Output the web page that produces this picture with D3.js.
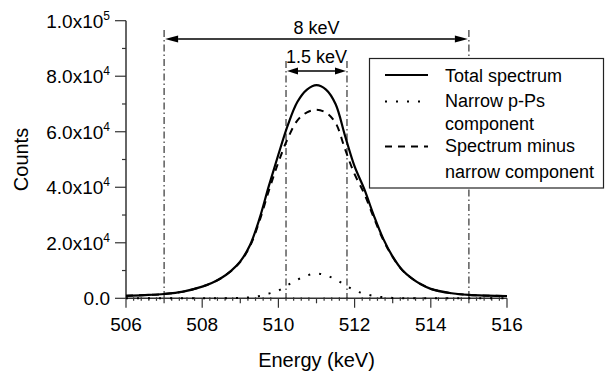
<!DOCTYPE html>
<html>
<head>
<meta charset="utf-8">
<script src="https://cdn.jsdelivr.net/npm/d3@7"></script>
<style>
body{margin:0;background:#fff;}
text{font-family:"Liberation Sans",Arial,sans-serif;fill:#000;}
</style>
</head>
<body>
<div id="chart"></div>
<script>
// energies (keV) and the three spectra
var energy=[506,506.5,507,507.5,508,508.25,508.5,508.75,509,509.25,509.5,509.75,510,510.25,510.5,510.75,511,511.25,511.5,511.75,512,512.25,512.5,512.75,513,513.25,513.5,513.75,514,514.5,515,515.5,516];
var total=[900,1150,1550,2400,4200,5500,7300,9800,13300,19000,28500,40500,51800,62500,70800,75200,76800,75200,70000,58500,47500,39500,30000,21500,15000,10200,7200,5000,3400,1900,1200,950,830];
var narrow=[0,0,0,0,0,0,0,50,150,350,800,1700,2800,4800,6700,8200,8900,8300,6800,4800,2800,1700,850,400,150,60,0,0,0,0,0,0,0];
var minusNarrow=[900,1150,1550,2400,4200,5500,7300,9750,13150,18650,27700,38800,49000,57700,64100,67000,67900,66900,63200,53700,44700,37800,29150,21100,14850,10140,7200,5000,3400,1900,1200,950,830];

var xTicks=[506,508,510,512,514,516];
var yTicks=[0,20000,40000,60000,80000,100000];
var yMant=["0.0","2.0","4.0","6.0","8.0","1.0"];
var yExp=["","4","4","4","4","5"];
var markers=[507,510.2,511.8,515];
var legendNames=[["Total spectrum"],["Narrow p-Ps","component"],["Spectrum minus","narrow component"]];

var W=607,H=371;
var svg=d3.select("#chart").append("svg").attr("width",W).attr("height",H);

var x=d3.scaleLinear().domain([506,516]).range([126,507]);
var y=d3.scaleLinear().domain([0,100000]).range([298.3,20.7]);

// axes
var axisColor="#333";
svg.append("line").attr("x1",x(506)).attr("x2",x(516)).attr("y1",y(0)).attr("y2",y(0))
  .attr("stroke",axisColor).attr("stroke-width",1.5);
svg.append("line").attr("x1",x(506)).attr("x2",x(506)).attr("y1",y(0)).attr("y2",y(100000))
  .attr("stroke",axisColor).attr("stroke-width",1.5);

// x ticks: minor every 0.2, medium at odd, major at even
for(var k=0;k<=50;k++){
  var e=506+k*0.2;
  var len=2.5;
  if(k%10==0) len=9.5;
  else if(k%5==0) len=5;
  svg.append("line").attr("x1",x(e)).attr("x2",x(e)).attr("y1",y(0)-(len<3?1:0)).attr("y2",y(0)+len)
    .attr("stroke",axisColor).attr("stroke-width",1.2);
}
xTicks.forEach(function(t){
  svg.append("text").attr("x",x(t)).attr("y",331).attr("text-anchor","middle")
    .style("font-size","19px").text(t);
});

// y ticks
for(var v=0;v<=100000;v+=10000){
  var len2=(v%20000==0)?11:4;
  svg.append("line").attr("x1",x(506)-len2).attr("x2",x(506)).attr("y1",y(v)).attr("y2",y(v))
    .attr("stroke",axisColor).attr("stroke-width",1.2);
}
yTicks.forEach(function(t,i){
  var tx=svg.append("text").attr("x",110).attr("y",y(t)+7).attr("text-anchor","end")
    .style("font-size","19px");
  if(yExp[i]==""){ tx.text(yMant[i]); }
  else{
    tx.append("tspan").text(yMant[i]+"x10");
    tx.append("tspan").attr("dy",-8).style("font-size","12px").text(yExp[i]);
  }
});

svg.append("text").attr("x",x(511)).attr("y",367).attr("text-anchor","middle")
  .style("font-size","20px").text("Energy (keV)");
svg.append("text").attr("transform","translate(28,"+((y(0)+y(100000))/2)+") rotate(-90)")
  .attr("text-anchor","middle").style("font-size","20px").text("Counts");

// dash-dot marker lines
markers.forEach(function(m,i){
  var top=(i==0||i==3)?30:61;
  svg.append("line").attr("x1",x(m)).attr("x2",x(m)).attr("y1",top).attr("y2",y(0))
    .attr("stroke","#333").attr("stroke-width",1.2).attr("stroke-dasharray","7,3,1.5,3");
});

// double arrows
function dblArrow(x1,x2,yy,head){
  svg.append("line").attr("x1",x1+head).attr("x2",x2-head).attr("y1",yy).attr("y2",yy)
    .attr("stroke","#000").attr("stroke-width",1.5);
  svg.append("path").attr("d","M"+x1+","+yy+"L"+(x1+head)+","+(yy-3.5)+"L"+(x1+head)+","+(yy+3.5)+"Z").attr("fill","#000");
  svg.append("path").attr("d","M"+x2+","+yy+"L"+(x2-head)+","+(yy-3.5)+"L"+(x2-head)+","+(yy+3.5)+"Z").attr("fill","#000");
}
dblArrow(x(markers[0])+1,x(markers[3])-1,39,13);
dblArrow(x(markers[1])+1,x(markers[2])-1,71,11);
svg.append("text").attr("x",(x(markers[0])+x(markers[3]))/2).attr("y",34).attr("text-anchor","middle")
  .style("font-size","18px").text("8 keV");
svg.append("text").attr("x",(x(markers[1])+x(markers[2]))/2).attr("y",63).attr("text-anchor","middle")
  .style("font-size","18px").text("1.5 keV");

// curves
var line=d3.line().x(function(d){return x(d[0]);}).y(function(d){return y(d[1]);}).curve(d3.curveCatmullRom);
function pts(arr){ return energy.map(function(e,i){return [e,arr[i]];}); }

svg.append("path").datum(pts(narrow)).attr("d",line).attr("fill","none")
  .attr("stroke","#000").attr("stroke-width",2).attr("stroke-dasharray","2,9");
svg.append("path").datum(pts(total)).attr("d",line).attr("fill","none")
  .attr("stroke","#000").attr("stroke-width",2.2);
svg.append("path").datum(pts(minusNarrow)).attr("d",line).attr("fill","none")
  .attr("stroke","#000").attr("stroke-width",2).attr("stroke-dasharray","7,6");

// legend
var lg=svg.append("g");
lg.append("rect").attr("x",369.5).attr("y",58.5).attr("width",234).attr("height",129.5)
  .attr("fill","#fff").attr("stroke","#222").attr("stroke-width",1.2);
var sampleY=[75,101.5,146.5];
var styles=[{w:2.2,d:null},{w:2,d:"2,9"},{w:2,d:"7,6"}];
var rowY=[[82],[107,130],[152,178]];
legendNames.forEach(function(names,i){
  var s=lg.append("line").attr("x1",385).attr("x2",428).attr("y1",sampleY[i]).attr("y2",sampleY[i])
    .attr("stroke","#000").attr("stroke-width",styles[i].w);
  if(styles[i].d) s.attr("stroke-dasharray",styles[i].d);
  names.forEach(function(n,j){
    lg.append("text").attr("x",445).attr("y",rowY[i][j]).style("font-size","18px").text(n);
  });
});
</script>
</body>
</html>
